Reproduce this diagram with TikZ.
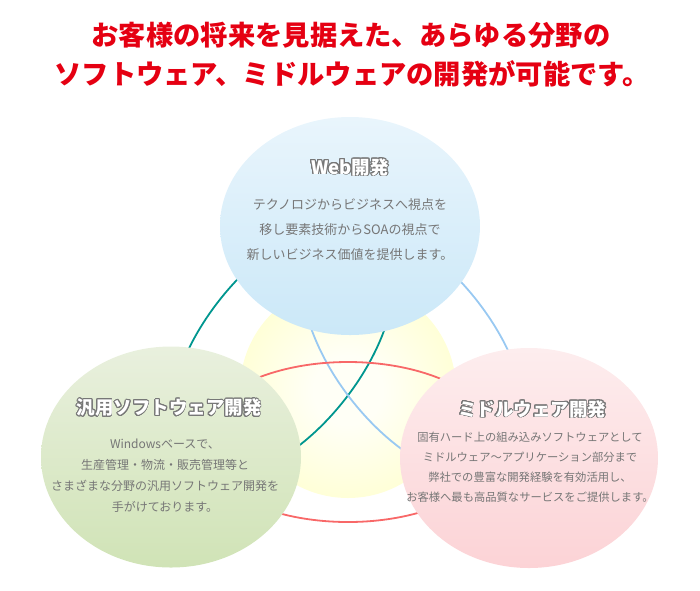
\documentclass[tikz,border=0pt]{standalone}
\usepackage{fontspec}
\setmainfont{Noto Sans CJK JP}
\newfontfamily\cjk{Noto Sans CJK JP}
\usepackage[copies]{contour}
\contourlength{0.85pt}
\contournumber{20}
\usetikzlibrary{shapes.geometric}
\definecolor{titlered}{HTML}{E50012}
\definecolor{bodygray}{HTML}{767676}
\definecolor{headgray}{HTML}{777777}
\definecolor{webtop}{HTML}{E9F5FC}
\definecolor{webbot}{HTML}{CBE8F8}
\definecolor{gentop}{HTML}{E9F0DE}
\definecolor{genbot}{HTML}{D0E3B6}
\definecolor{midtop}{HTML}{FDEDEE}
\definecolor{midbot}{HTML}{FCD3D6}
\definecolor{yelc}{HTML}{FFFFF6}
\definecolor{yelm}{HTML}{FFFFD2}
\definecolor{yele}{HTML}{FEFCC2}
\definecolor{ringteal}{HTML}{00968F}
\definecolor{ringblue}{HTML}{99C9F2}
\definecolor{ringred}{HTML}{F86868}
\pgfdeclareradialshading{yelshade}{\pgfpoint{0bp}{0bp}}{color(0bp)=(yelc); color(8bp)=(yelc); color(28bp)=(yelm); color(50bp)=(yele)}
\newcommand\hdtext[1]{\textcolor{white}{\contour{headgray}{#1}}}
\tikzset{
  titletext/.style={text=titlered, font=\cjk\bfseries\fontsize{27.3}{32}\selectfont, inner sep=0pt},
  blob/.style={ellipse, inner sep=0pt, draw=none},
  ring/.style={line width=1.8pt},
  headtext/.style={font=\cjk\bfseries\fontsize{18.5}{22}\selectfont, inner sep=0pt},
  bodytext/.style={text=bodygray, align=center, inner sep=0pt},
}
\begin{document}
\begin{tikzpicture}[x=1pt,y=-1pt]
\useasboundingbox (0,0) rectangle (700,590);
% title
\node[titletext] (t1) at (351,35) {お客様の将来を見据えた、あらゆる分野の};
\node[titletext] (t2) at (352,74) {ソフトウェア、ミドルウェアの開発が可能です。};
% central yellow disc
\shade[shading=yelshade] (348,390) circle [radius=108pt];
% rings
\draw[ring, draw=ringteal, rotate around={52:(282,350)}] (282,350) ellipse [x radius=151pt, y radius=80pt];
\draw[ring, draw=ringblue, rotate around={-52:(414,350)}] (414,350) ellipse [x radius=151pt, y radius=80pt];
\draw[ring, draw=ringred] (348,442) ellipse [x radius=151pt, y radius=80pt];
% three ellipses
\node[blob, top color=webtop, bottom color=webbot, minimum width=260pt, minimum height=218pt] (web) at (350,226) {};
\node[blob, top color=gentop, bottom color=genbot, minimum width=260pt, minimum height=221pt] (gen) at (171,457) {};
\node[blob, top color=midtop, bottom color=midbot, minimum width=258pt, minimum height=220pt] (mid) at (529,458) {};
% headings
\node[headtext] (webh) at (350,167.5) {\hdtext{Web開発}};
\node[headtext] (genh) at (169,408) {\hdtext{汎用ソフトウェア開発}};
\node[headtext] (midh) at (532,409.5) {\hdtext{ミドルウェア開発}};
% body texts
\node[bodytext, font=\cjk\fontsize{13}{25}\selectfont] (webt) at (350,229.5)
  {テクノロジからビジネスへ視点を\\移し要素技術からSOAの視点で\\新しいビジネス価値を提供します。};
\node[bodytext, font=\cjk\fontsize{12}{21.2}\selectfont] (gent) at (165,475.7)
  {Windowsベースで、\\生産管理・物流・販売管理等と\\さまざまな分野の汎用ソフトウェア開発を\\手がけております。};
\node[bodytext, font=\cjk\fontsize{11.3}{20}\selectfont] (midt) at (530,467.5)
  {固有ハード上の組み込みソフトウェアとして\\ミドルウェア～アプリケーション部分まで\\弊社での豊富な開発経験を有効活用し、\\お客様へ最も高品質なサービスをご提供します。};
\end{tikzpicture}
\end{document}
